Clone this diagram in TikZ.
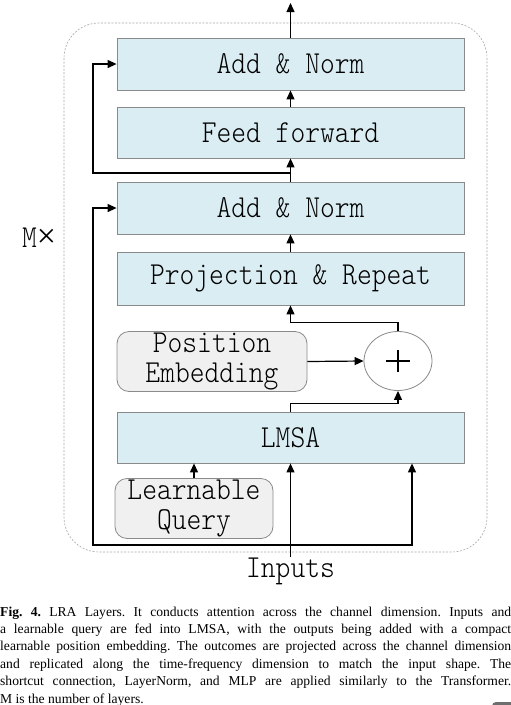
\documentclass[tikz,border=0pt]{standalone}
\usepackage{fontspec}
\usepackage{graphicx}
\newfontfamily\capfont{Liberation Serif}
\newfontfamily\monolight{lmmonolt10-regular.otf}
\usetikzlibrary{arrows.meta,shapes.geometric}
\definecolor{boxblue}{HTML}{DAEDF3}
\definecolor{boxline}{HTML}{8A8A8A}
\definecolor{roundfill}{HTML}{F0F0F0}
\definecolor{dashgray}{HTML}{A8A8A8}
\definecolor{badgegray}{HTML}{6E6E6E}
\newcommand\mtxt[1]{\scalebox{0.88}[1]{#1}}
\newcommand\mfont{\monolight\fontsize{32}{30}\selectfont}
\begin{document}
\begin{tikzpicture}[x=1pt,y=-1pt,
  blockbox/.style={draw=boxline,line width=0.8pt,fill=boxblue,minimum width=347pt,inner sep=0pt,font=\mfont},
  roundbox/.style={draw=boxline,line width=0.8pt,fill=roundfill,rounded corners=12pt,inner sep=0pt,font=\mfont},
  arr/.style={line width=1.2pt,-{Triangle[length=9pt,width=8pt]}},
  darr/.style={line width=1.2pt,{Triangle[length=9pt,width=8pt]}-{Triangle[length=9pt,width=8pt]}},
  capline/.style={anchor=base west,inner sep=0pt,font=\capfont\frenchspacing\fontsize{13.6}{17.4}\selectfont}
]
\useasboundingbox (0,0) rectangle (511,705);
% dashed frame
\draw[dashgray,line width=0.6pt,dash pattern=on 2pt off 1.5pt,rounded corners=35pt] (64,23) rectangle (487,552);
% blocks
\node[blockbox,minimum height=52pt] (an2) at (290.5,64) {\mtxt{Add \& Norm}};
\node[blockbox,minimum height=51pt] (ff) at (290.5,132.5) {\mtxt{Feed forward}};
\node[blockbox,minimum height=52pt] (an1) at (290.5,208) {\mtxt{Add \& Norm}};
\node[blockbox,minimum height=53pt] (pr) at (290.5,278.5) {\mtxt{Projection \& Repeat}};
\node[roundbox,minimum width=190pt,minimum height=59pt] (pe) at (212,361.5) {\mtxt{\begin{tabular}{@{}c@{}}Position\\Embedding\end{tabular}}};
\node[draw=boxline,line width=0.8pt,fill=white,ellipse,minimum width=68pt,minimum height=59pt,inner sep=0pt] (plus) at (398,361) {};
\draw[line width=1.6pt] ([xshift=-12pt]plus.center) -- ([xshift=12pt]plus.center);
\draw[line width=1.6pt] ([yshift=-11pt]plus.center) -- ([yshift=11pt]plus.center);
\node[blockbox,minimum height=51pt] (lmsa) at (290.5,437.5) {\mtxt{LMSA}};
\node[roundbox,minimum width=158pt,minimum height=59pt] (lq) at (194,508.5) {\mtxt{\begin{tabular}{@{}c@{}}Learnable\\Query\end{tabular}}};
\node[font=\mfont,inner sep=0pt,anchor=base] (inp) at (290.5,577) {\mtxt{Inputs}};
\node[font=\mfont,inner sep=0pt,anchor=base west] (mx) at (22,247) {\mtxt{M}{\capfont\fontsize{34}{34}\selectfont ×}};
% connectors
\coordinate (top) at (290.5,3);
\draw[arr] (an2.north) -- (top);
\draw[arr] (ff.north) -- (an2.south);
\draw[arr] (an1.north) -- (ff.south);
\draw[arr] (pr.north) -- (an1.south);
\coordinate (j1) at (290.5,173);
\coordinate (s1) at (93,173);
\draw[arr] (j1) -- (s1) |- (an2.west);
\coordinate (b1) at (93,545);
\coordinate (b2) at (412,545);
\draw[darr] (b2 |- lmsa.south) -- (b2) -- (b1) |- (an1.west);
\draw[arr] (inp.north) -- (inp.north |- lmsa.south);
\draw[arr] (lq.north) -- (lq.north |- lmsa.south);
\draw[arr] (lmsa.north) -- ++(0,-8) -| (plus.south);
\draw[arr] (plus.north) -- ++(0,-9) -| (pr.south);
\draw[arr] (pe.east) -- (plus.west);
% caption
\node[capline] (c1) at (0,616) {\makebox[511pt][s]{\textbf{Fig. 4.} LRA Layers. It conducts attention across the channel dimension. Inputs and}};
\node[capline] (c2) at (0,633.4) {\makebox[511pt][s]{a learnable query are fed into LMSA, with the outputs being added with a compact}};
\node[capline] (c3) at (0,650.8) {\makebox[511pt][s]{learnable position embedding. The outcomes are projected across the channel dimension}};
\node[capline] (c4) at (0,668.2) {\makebox[511pt][s]{and replicated along the time-frequency dimension to match the input shape. The}};
\node[capline] (c5) at (0,685.6) {\makebox[511pt][s]{shortcut connection, LayerNorm, and MLP are applied similarly to the Transformer.}};
\node[capline] (c6) at (0,703) {M is the number of layers.};
% badge
\fill[badgegray,rounded corners=4pt] (492,702) rectangle (522,732);
\end{tikzpicture}
\end{document}
